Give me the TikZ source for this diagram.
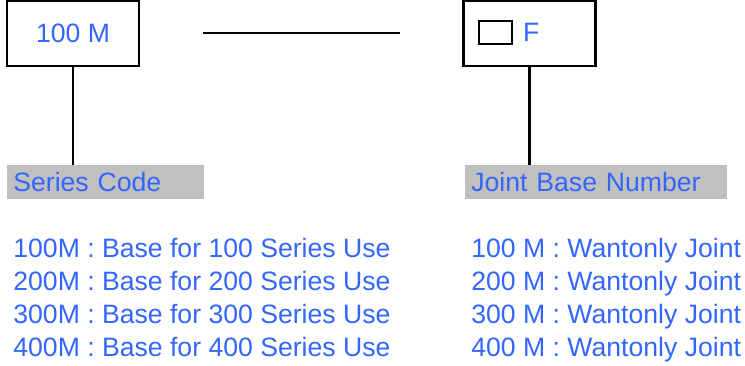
\documentclass[tikz,border=0pt]{standalone}
\usepackage{fontspec}
\setmainfont{Liberation Sans}
\usetikzlibrary{positioning}
\definecolor{codeblue}{RGB}{51,102,255}
\definecolor{bandgray}{RGB}{192,192,192}

\begin{document}
\begin{tikzpicture}[x=0.5pt,y=-0.5pt,
  every node/.style={font=\fontsize{13.3}{16}\selectfont, text=codeblue},
  codebox/.style={draw=black, line width=1.25pt, minimum width=66pt, minimum height=32.5pt, inner sep=0pt},
  band/.style={fill=bandgray, anchor=north west, minimum height=17pt, inner xsep=3pt, inner ysep=0pt, align=left},
  listline/.style={anchor=base west, inner sep=0pt}]
  \useasboundingbox (0,0) rectangle (745,365);
  % code boxes
  \node[codebox] (series) at (73,33.5) {100 M};
  \node[codebox] (joint) at (529.5,33.5) {};
  \node[draw=black, line width=0.65pt, minimum width=16.5pt, minimum height=11.5pt, inner sep=0pt] (blank) at (495.5,32.5) {};
  \node[right=5pt of blank, inner sep=0pt] (F) {F};
  \coordinate (gapL) at (203,33);
  \coordinate (gapR) at (400,33);
  % bands
  \node[band, text width=92.5pt] (seriesband) at (7,165) {Series Code};
  \node[band, text width=125pt] (jointband) at (465,165) {Joint Base Number};
  \path[line width=1.25pt]
  (gapL) edge (gapR)
  (series.south) edge (series.south |- seriesband.north)
  (joint.south) edge (joint.south |- jointband.north);
  % lists
  \foreach \n [count=\i] in {100,200,300,400} {
    \node[listline] (use-\i) at (13,224+33*\i) {\n M : Base for \n\ Series Use};
    \node[listline] (wanton-\i) at (471,224+33*\i) {\n\ M : Wantonly Joint};
  }
\end{tikzpicture}
\end{document}
